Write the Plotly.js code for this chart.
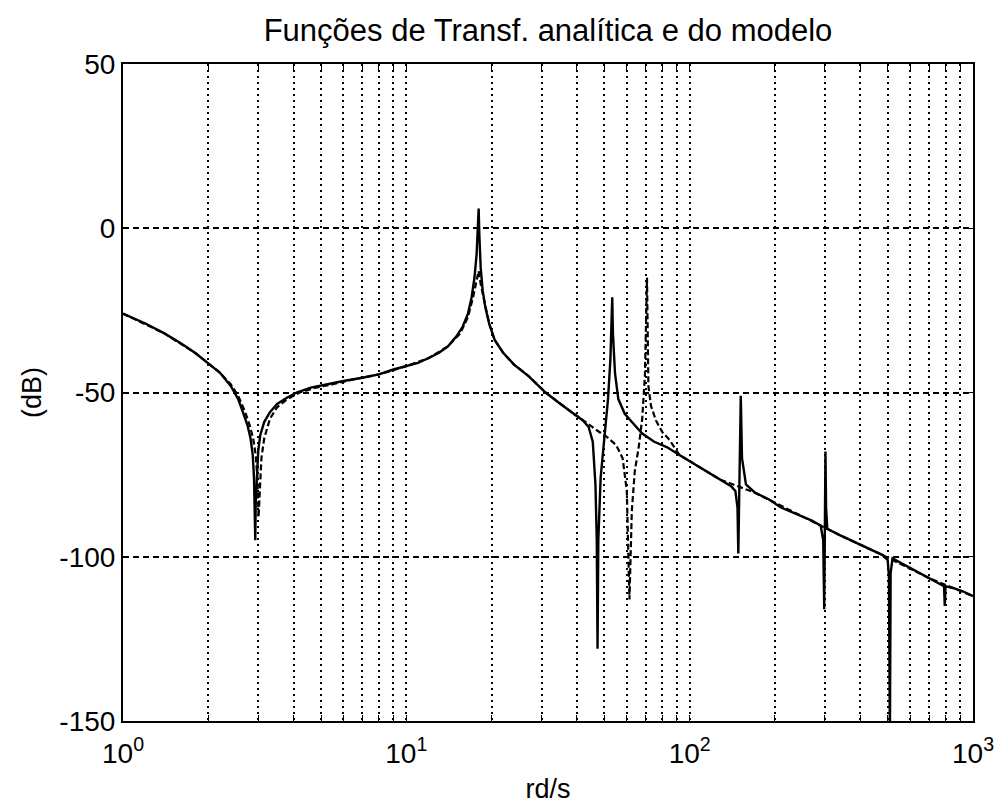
<!DOCTYPE html>
<html>
<head>
<meta charset="utf-8">
<script src="https://cdn.plot.ly/plotly-3.0.1.min.js"></script>
<style>html,body{margin:0;padding:0;background:#fff;}#chart{width:995px;height:806px;}</style>
</head>
<body>
<div id="chart"></div>
<script>
// Analytic transfer function (solid)
const freqAnalytic = [1, 1.2, 1.4, 1.6, 1.8, 2.0, 2.2, 2.4, 2.55, 2.65, 2.75, 2.82, 2.87, 2.9, 2.92, 2.93, 2.94, 2.96, 2.98, 3.0, 3.05, 3.15, 3.3, 3.5, 3.8, 4.1, 4.6, 5.2, 6, 7, 8, 9, 10, 11, 12, 13, 14, 15, 15.8, 16.5, 17, 17.4, 17.7, 17.9, 18.0, 18.1, 18.3, 18.6, 19, 19.6, 20.5, 22, 24, 27, 31, 35, 39, 42, 44, 45.5, 46.5, 47, 47.3, 47.6, 48.5, 50, 51.5, 52.5, 53, 53.3, 53.6, 54.5, 56, 59, 63, 68, 75, 83, 92, 103, 115, 128, 140, 145, 147.5, 148.5, 149.5, 150.5, 151.5, 153, 158, 170, 190, 210, 240, 270, 290, 296, 298.5, 300, 301.5, 303, 306, 340, 380, 430, 480, 500, 505, 509, 512, 520, 560, 620, 700, 760, 790, 795, 800, 850, 920, 1000];
const dbAnalytic = [-26, -29, -32, -35, -38, -41, -44, -48, -52, -56, -60, -64, -69, -76, -86, -95, -84, -78, -72, -68, -63, -59, -56, -53.5, -51.5, -50, -48.5, -47.5, -46.5, -45.5, -44.5, -43, -42, -41, -39.5, -38, -36, -33, -30, -26, -21, -15, -8, -1, 6, -2, -12, -19, -24, -29, -34, -38, -41.5, -45, -50, -53.5, -56.5, -58.5, -60.5, -65, -78, -95, -128, -95, -76, -64, -52, -40, -30, -21, -32, -44, -52, -56.5, -59.3, -62.5, -65, -66.6, -69, -71.5, -74, -76.5, -78.5, -80, -85, -99, -85, -65, -51, -70, -78, -80.5, -82.5, -85, -87, -89, -90.5, -95, -116, -95, -68, -85, -91.5, -93.5, -95.5, -97.5, -99.5, -101, -106, -155, -105, -100.5, -102, -104, -106.5, -108, -109, -115, -109, -109.5, -110.5, -112];

// Model transfer function (dashed)
const freqModel = [1, 1.4, 1.8, 2.0, 2.2, 2.4, 2.55, 2.7, 2.8, 2.88, 2.94, 2.98, 3.01, 3.04, 3.08, 3.15, 3.3, 3.5, 3.8, 4.2, 4.8, 5.5, 6.5, 8, 10, 12, 14, 15.5, 16.5, 17.2, 17.7, 18.0, 18.3, 18.8, 19.6, 20.5, 22, 24, 27, 31, 35, 39, 43, 47, 51, 55, 58, 60, 61.3, 62.5, 64, 66, 68, 69.5, 70.7, 71.5, 73, 76, 80, 85, 92, 103, 128, 170, 240, 340, 480, 700, 1000];
const dbModel = [-26, -32, -38, -41, -44, -47.5, -51, -56, -60, -64, -69, -76, -88, -80, -70, -64, -58, -54.5, -52, -50, -48.5, -47.5, -46, -44.5, -42, -39.5, -36, -32, -27, -21, -16, -13, -17, -22, -29, -34, -38, -41.5, -45, -50, -53.5, -56.5, -59, -61.5, -63.5, -66, -70, -80, -113, -86, -74, -67, -58, -45, -15, -48, -54, -58.5, -62, -64.5, -69, -71.5, -76.5, -80.5, -87, -93.5, -99.5, -106.5, -112];

// Axis ticks
const xTickVals = [1, 2, 3, 4, 5, 6, 7, 8, 9, 10, 20, 30, 40, 50, 60, 70, 80, 90, 100, 200, 300, 400, 500, 600, 700, 800, 900, 1000];
const xTickText = ['10<sup>0</sup>', '', '', '', '', '', '', '', '', '10<sup>1</sup>', '', '', '', '', '', '', '', '', '10<sup>2</sup>', '', '', '', '', '', '', '', '', '10<sup>3</sup>'];
const yTickVals = [-150, -100, -50, 0, 50];
const yTickText = ['-150', '-100', '-50', '0', '50'];

const traces = [
  {x: freqAnalytic, y: dbAnalytic, type: 'scatter', mode: 'lines', name: 'analítica',
   line: {color: '#000', width: 2.4}},
  {x: freqModel, y: dbModel, type: 'scatter', mode: 'lines', name: 'modelo',
   line: {color: '#000', width: 2.2, dash: '6px,3px'}}
];

const font = {family: '"Liberation Sans", Arial, sans-serif', color: '#000'};

const layout = {
  width: 995, height: 806,
  margin: {l: 123, r: 22, t: 64, b: 85},
  paper_bgcolor: '#fff', plot_bgcolor: '#fff',
  showlegend: false,
  font: Object.assign({size: 28}, font),
  title: {text: 'Funções de Transf. analítica e do modelo', x: 0.5, xref: 'paper', xanchor: 'center',
          y: 0.963, yref: 'container', yanchor: 'middle', font: Object.assign({size: 31}, font)},
  xaxis: {
    type: 'log', range: [0, 3],
    tickmode: 'array', tickvals: xTickVals, ticktext: xTickText,
    ticks: 'inside', ticklen: 6, tickcolor: '#000',
    showgrid: true, gridcolor: '#000', gridwidth: 2, griddash: '2px,4px',
    showline: true, linecolor: '#000', linewidth: 2, mirror: 'ticks',
    zeroline: false, ticklabelstandoff: 6,
    tickfont: Object.assign({size: 28}, font),
    title: {text: 'rd/s', font: Object.assign({size: 27}, font), standoff: 12}
  },
  yaxis: {
    range: [-150, 50],
    tickmode: 'array', tickvals: yTickVals, ticktext: yTickText,
    ticks: 'inside', ticklen: 6, tickcolor: '#000',
    showgrid: true, gridcolor: '#000', gridwidth: 2, griddash: '6px,4px',
    showline: true, linecolor: '#000', linewidth: 2, mirror: 'ticks',
    zeroline: false,
    tickfont: Object.assign({size: 28}, font),
    title: {text: '(dB)', font: Object.assign({size: 27}, font), standoff: 10}
  }
};

Plotly.newPlot('chart', traces, layout, {staticPlot: true});
</script>
</body>
</html>
